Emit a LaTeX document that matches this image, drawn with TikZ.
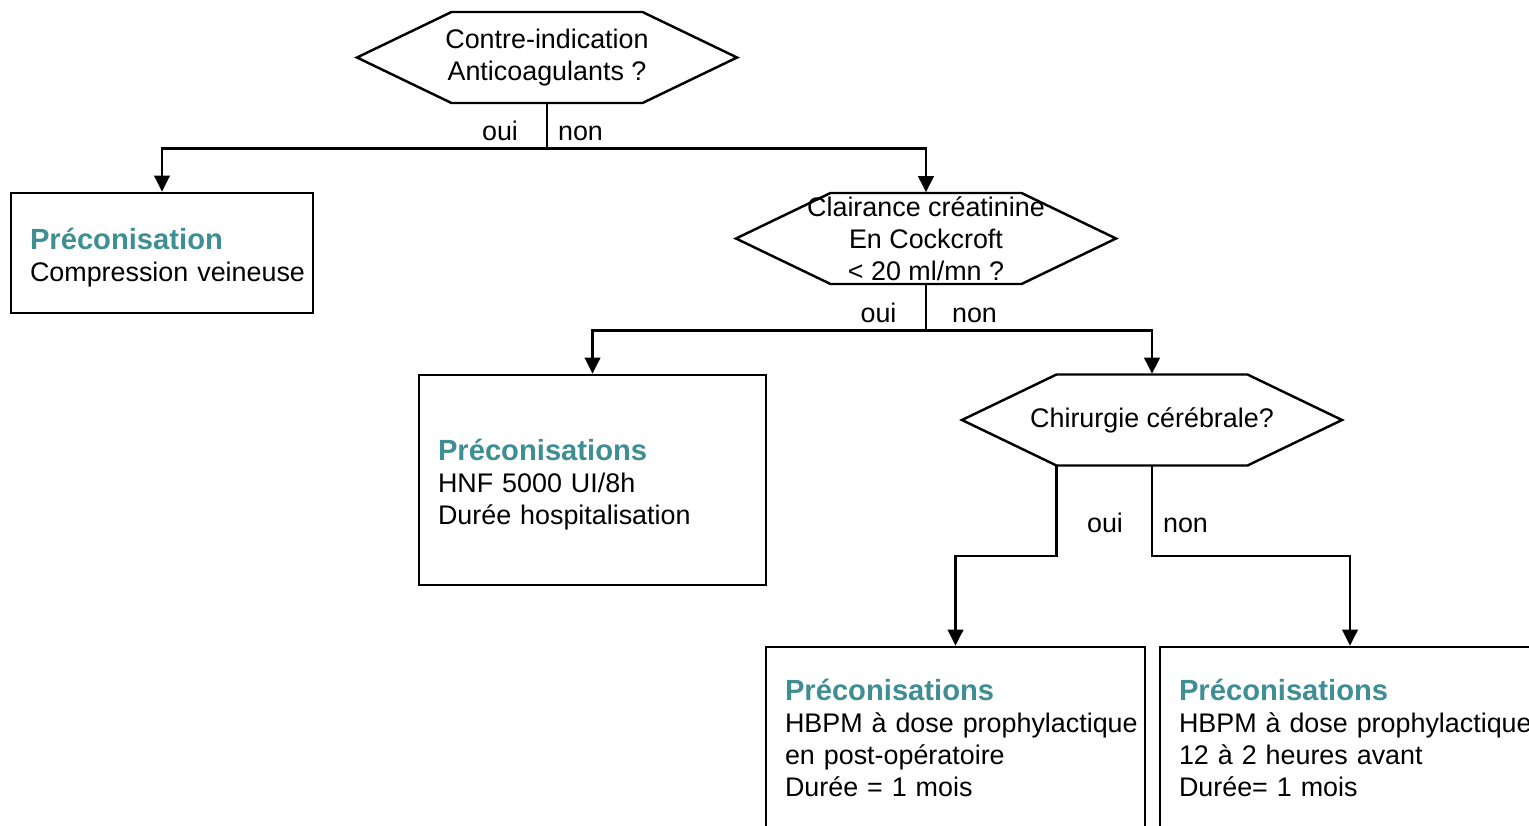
\documentclass[tikz,border=0pt]{standalone}
\usepackage{fontspec}
\setmainfont{Liberation Sans}
\usetikzlibrary{arrows.meta}

\definecolor{preco}{RGB}{62,142,148}

\tikzset{
    hexa/.style={inner sep=0pt, minimum width=1.91cm, minimum height=0.91cm, align=center},
    boite/.style={draw, line width=0.7pt, inner xsep=0.19cm, inner ysep=0pt, align=left,
        execute at end node={\vspace*{-2.8pt}}},
    bas/.style={execute at end node={\vspace*{5.8pt}}},
    fleche/.style={line width=0.7pt, -{Triangle[length=4.6pt, width=4.4pt]}},
    trait/.style={line width=0.7pt},
    ouinon/.style={anchor=base},
}
\newcommand{\titre}[1]{{\fontsize{8.3pt}{9.1pt}\selectfont\bfseries\color{preco}#1}}

\begin{document}
\begin{tikzpicture}[font=\fontsize{7.65pt}{9.1pt}\selectfont]
        \useasboundingbox (0, 0) rectangle (15.29, -8.25);
        \clip (0, 0) rectangle (15.29, -8.25);

        % questions
        \node[hexa] at (5.47, -0.575)  (q1) {Contre-indication\\Anticoagulants ?};
        \node[hexa] at (9.26, -2.385)  (q2) {Clairance créatinine\\En Cockcroft\\< 20 ml/mn ?};
        \node[hexa] at (11.52, -4.20)  (q3) {Chirurgie cérébrale?};

        \foreach \q in {q1, q2, q3}
            \draw[trait] ([shift={(-0.955, 0.455)}]\q.center) -- ([shift={(0.955, 0.455)}]\q.center)
                -- ([xshift=1.90cm]\q.center) -- ([shift={(0.955, -0.455)}]\q.center)
                -- ([shift={(-0.955, -0.455)}]\q.center) -- ([xshift=-1.90cm]\q.center) -- cycle;

        % preconisations
        \node[boite, text width=2.64cm, minimum height=1.20cm] at (1.62, -2.53)   (p1)
            {\titre{Préconisation}\\\mbox{Compression veineuse}};
        \node[boite, text width=3.09cm, minimum height=2.10cm] at (5.925, -4.80)  (p2)
            {\titre{Préconisations}\\HNF 5000 UI/8h\\Durée hospitalisation};
        \node[boite, bas, text width=3.41cm, minimum height=1.93cm] at (9.555, -7.435) (p3)
            {\titre{Préconisations}\\\mbox{HBPM à dose prophylactique}\\en post-opératoire\\Durée = 1 mois};
        \node[boite, bas, text width=3.42cm, minimum height=1.93cm] at (13.50, -7.435) (p4)
            {\titre{Préconisations}\\\mbox{HBPM à dose prophylactique}\\12 à 2 heures avant\\Durée= 1 mois};

        \draw[fleche] (q1.south) -- ++(0, -0.45) -| (p1.north);
        \draw[fleche] (q1.south) -- ++(0, -0.45) -| (q2.north);
        \draw[fleche] (q2.south) -- ++(0, -0.46) -| (p2.north);
        \draw[fleche] (q2.south) -- ++(0, -0.46) -| (q3.north);
        \draw[fleche] ([xshift=-0.955cm]q3.south) -- ++(0, -0.90) -| (p3.north);
        \draw[fleche] (q3.south) -- ++(0, -0.90) -| (p4.north);

        % oui / non
        \node[ouinon] at (5.00, -1.40)    (o1) {oui};
        \node[ouinon] at (5.805, -1.40)   (n1) {non};
        \node[ouinon] at (8.785, -3.22)   (o2) {oui};
        \node[ouinon] at (9.745, -3.22)   (n2) {non};
        \node[ouinon] at (11.05, -5.32)   (o3) {oui};
        \node[ouinon] at (11.855, -5.32)  (n3) {non};

    \end{tikzpicture}
\end{document}
